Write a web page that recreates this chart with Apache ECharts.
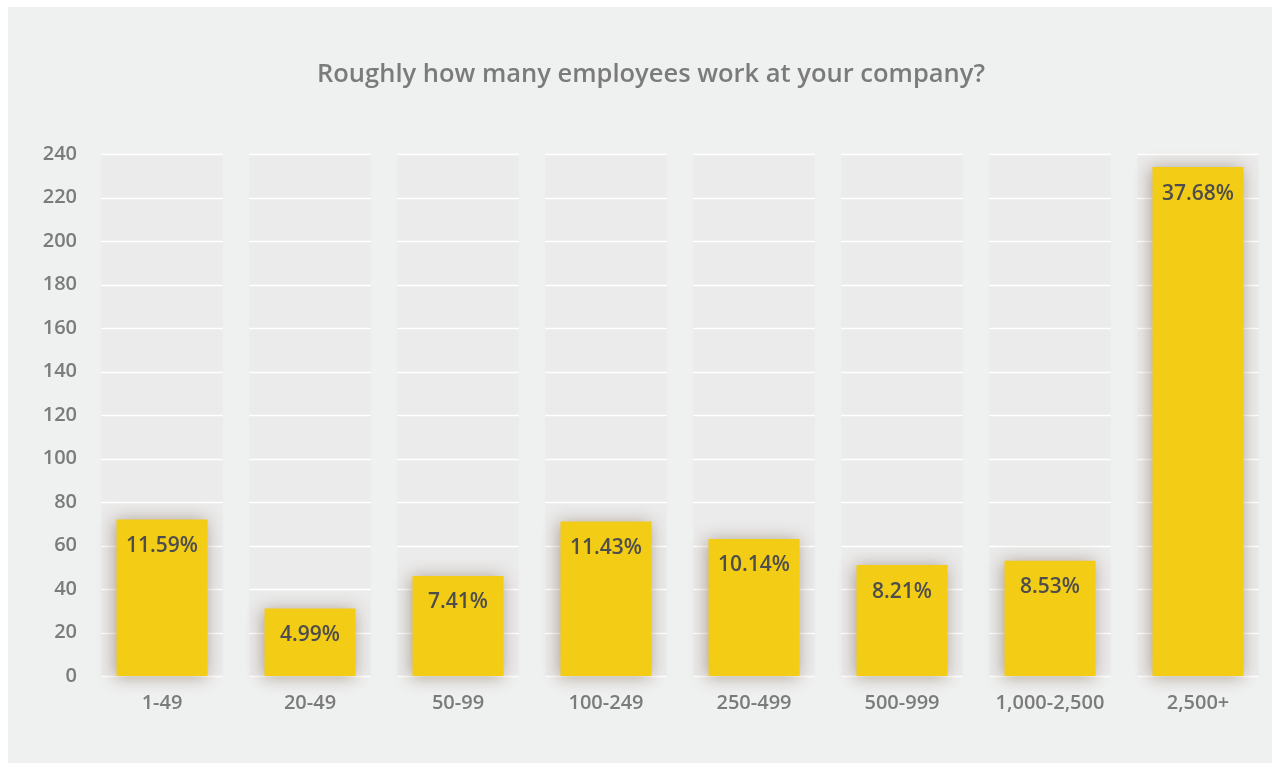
<!DOCTYPE html>
<html>
<head>
<meta charset="utf-8">
<title>Company size</title>
<script src="https://cdn.jsdelivr.net/npm/echarts@6/dist/echarts.min.js"></script>
<style>
  html, body { margin: 0; padding: 0; background: #ffffff; }
  #frame { position: absolute; left: 8px; top: 7px; width: 1264px; height: 756px; background: #eff0f0; }
  #chart { position: absolute; left: 0; top: 0; width: 1272px; height: 763px; }
</style>
</head>
<body>
<div id="frame"></div>
<div id="chart"></div>
<script>
// Survey answers: number of respondents per company-size bracket
const categories = ['1-49', '20-49', '50-99', '100-249', '250-499', '500-999', '1,000-2,500', '2,500+'];
const respondents = [72, 31, 46, 71, 63, 51, 53, 234];
const yTicks = [0, 20, 40, 60, 80, 100, 120, 140, 160, 180, 200, 220, 240];

const total = respondents.reduce((a, b) => a + b, 0);
const yMax = yTicks[yTicks.length - 1];

const chart = echarts.init(document.getElementById('chart'), null, { renderer: 'canvas' });

const font = '"Open Sans", "Noto Sans", sans-serif';

// Shaded column band behind each category, with white rules at every tick
function renderBand(params, api) {
  const idx = api.value(0);
  const bottom = api.coord([idx, 0]);
  const top = api.coord([idx, yMax]);
  const bandW = api.size([1, 0])[0] * 0.82;
  const x0 = bottom[0] - bandW / 2;
  const children = [{
    type: 'rect',
    shape: { x: x0, y: top[1], width: bandW, height: bottom[1] - top[1] },
    style: { fill: '#ebebeb' }
  }];
  yTicks.forEach(function (t) {
    const y = Math.round(api.coord([idx, t])[1]) + 0.5;
    children.push({
      type: 'line',
      shape: { x1: x0, y1: y, x2: x0 + bandW, y2: y },
      style: { stroke: '#ffffff', lineWidth: 1.5 }
    });
  });
  return { type: 'group', children: children };
}

chart.setOption({
  backgroundColor: 'transparent',
  animation: false,
  title: {
    text: 'Roughly how many employees work at your company?',
    left: 646,
    top: 57,
    textAlign: 'center',
    textStyle: { fontFamily: font, fontSize: 25.5, fontWeight: 600, color: '#7b7b7b' }
  },
  grid: { left: 88, top: 154, width: 1188, height: 522, containLabel: false },
  xAxis: {
    type: 'category',
    data: categories,
    axisLine: { show: false },
    axisTick: { show: false },
    splitLine: { show: false },
    axisLabel: { margin: 17, fontFamily: font, fontSize: 20, fontWeight: 600, color: '#7b7b7b' }
  },
  yAxis: {
    type: 'value',
    min: 0,
    max: yMax,
    interval: 20,
    axisLine: { show: false },
    axisTick: { show: false },
    splitLine: { show: false },
    axisLabel: { margin: 11, fontFamily: font, fontSize: 20, fontWeight: 600, color: '#7b7b7b' }
  },
  series: [
    {
      type: 'custom',
      renderItem: renderBand,
      data: categories.map((c, i) => [i]),
      encode: { x: 0 },
      silent: true,
      z: 1
    },
    {
      type: 'bar',
      data: respondents,
      barWidth: 91,
      z: 3,
      itemStyle: {
        color: '#f2cc15',
        shadowBlur: 16,
        shadowColor: 'rgba(95, 65, 35, 0.45)',
        shadowOffsetX: -2,
        shadowOffsetY: 1
      },
      label: {
        show: true,
        position: 'insideTop',
        distance: 16,
        fontFamily: font,
        fontSize: 21,
        fontWeight: 600,
        color: '#4d4d4d',
        formatter: p => (p.value / total * 100).toFixed(2) + '%'
      }
    }
  ]
});
</script>
</body>
</html>
